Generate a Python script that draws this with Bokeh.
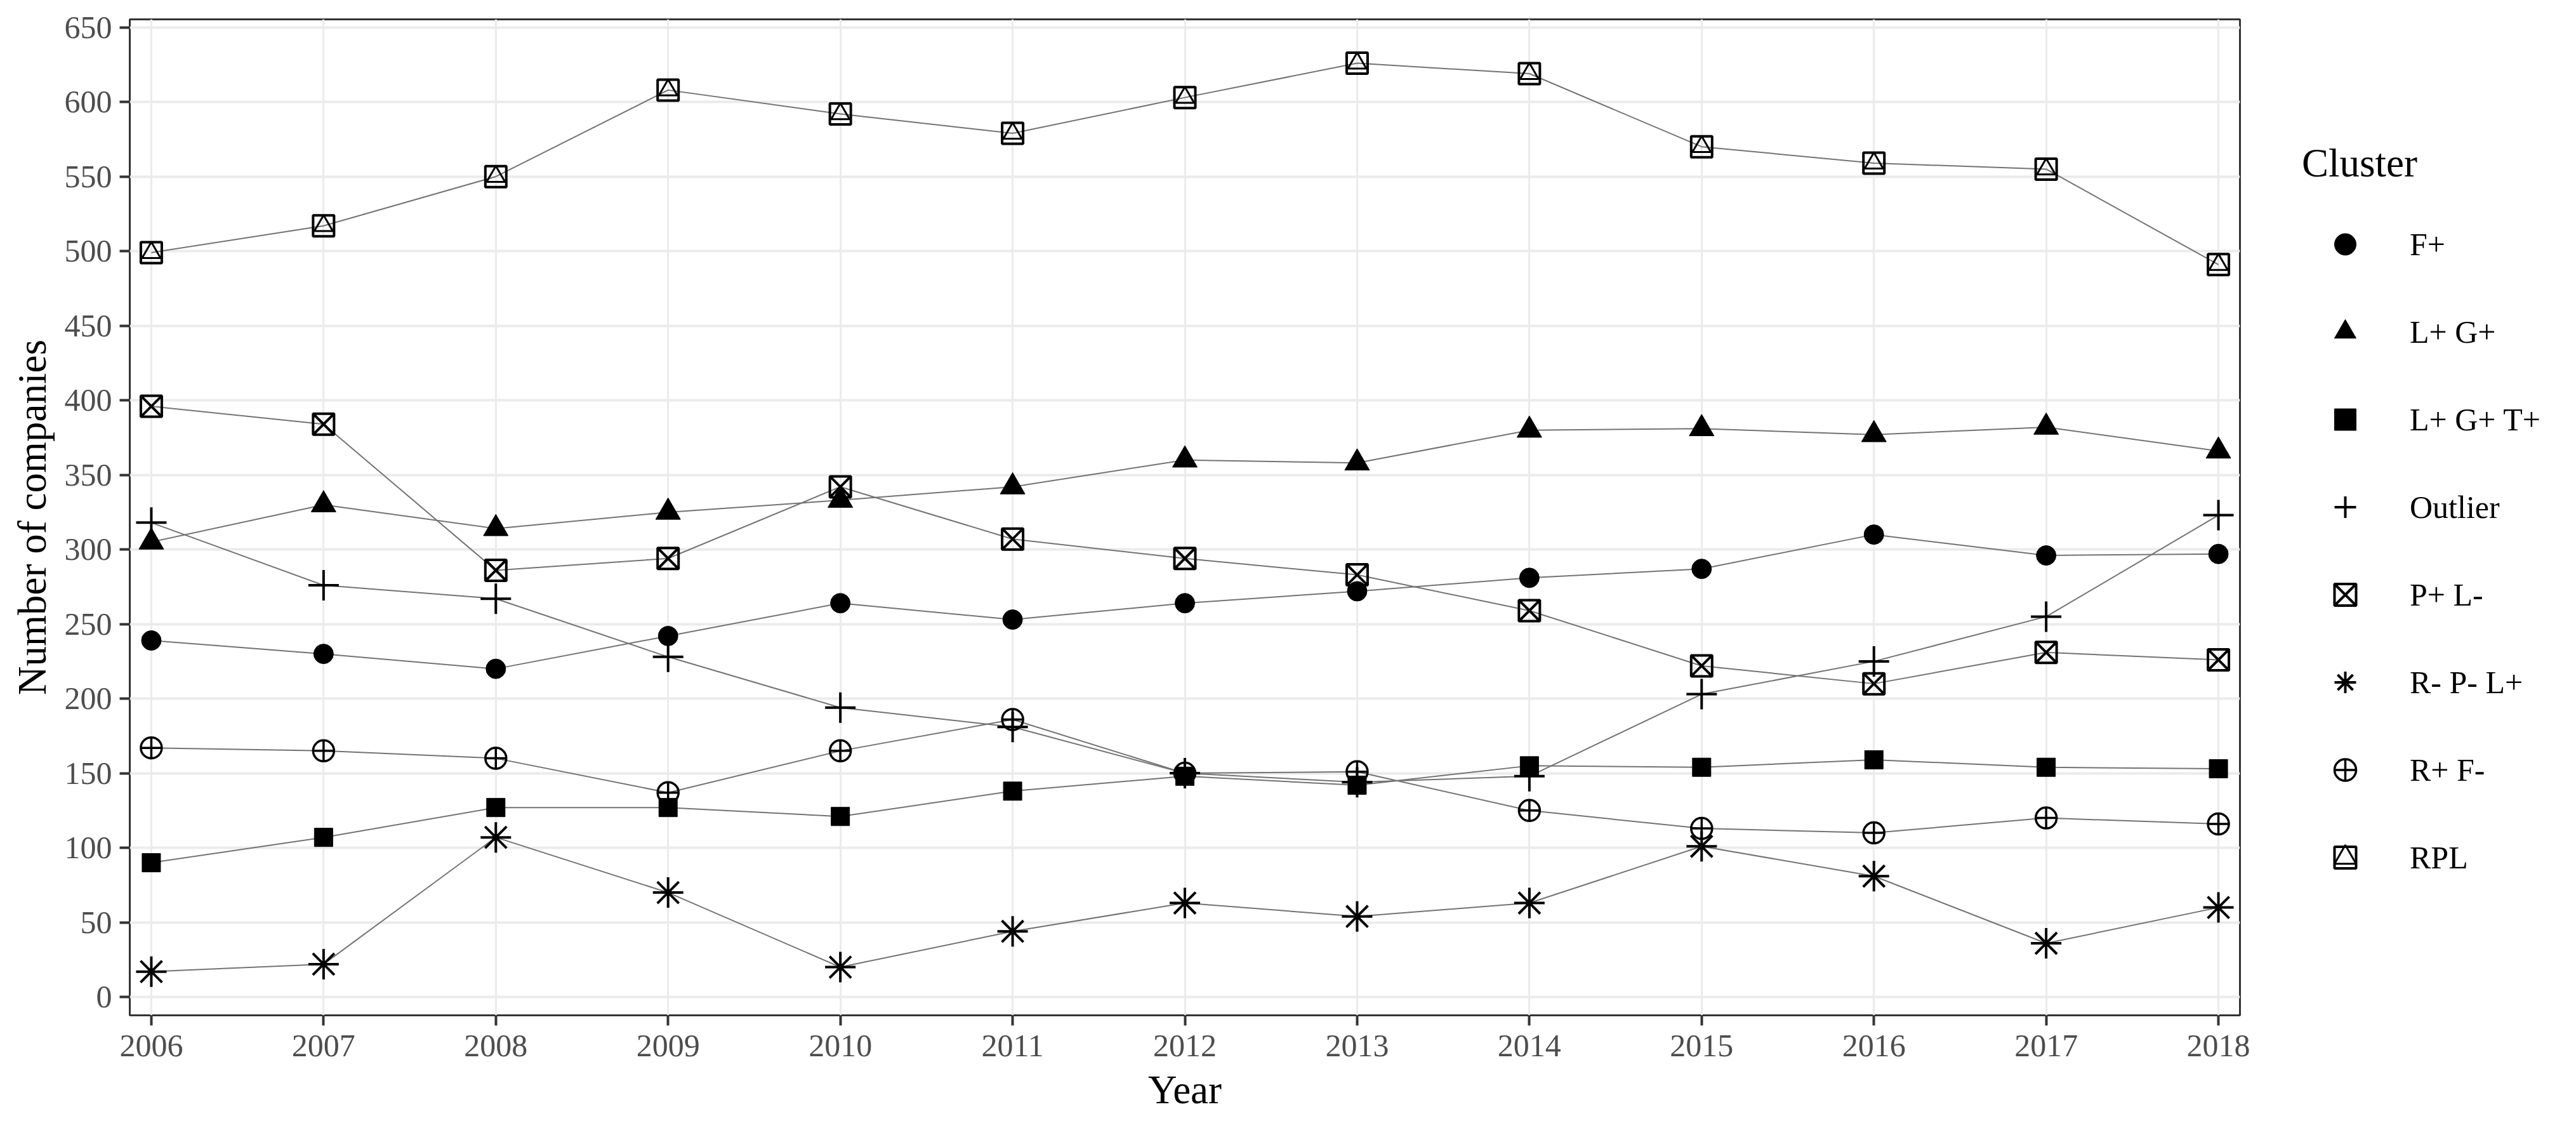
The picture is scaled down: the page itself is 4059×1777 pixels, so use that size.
from bokeh.plotting import figure
from bokeh.models import Legend, LegendItem, FixedTicker, Range1d
from bokeh.embed import file_html
from bokeh.resources import INLINE

years = list(range(2006, 2019))
f_plus = [239, 230, 220, 242, 264, 253, 264, 272, 281, 287, 310, 296, 297]
lg_plus = [305, 330, 314, 325, 333, 342, 360, 358, 380, 381, 377, 382, 366]
lgt_plus = [90, 107, 127, 127, 121, 138, 148, 142, 155, 154, 159, 154, 153]
outlier = [318, 276, 267, 228, 194, 181, 150, 144, 148, 203, 225, 255, 323]
p_l_minus = [396, 384, 286, 294, 342, 307, 294, 283, 259, 222, 210, 231, 226]
r_p_l_plus = [17, 22, 107, 70, 20, 44, 63, 54, 63, 101, 81, 36, 60]
r_f_minus = [167, 165, 160, 137, 165, 186, 150, 151, 125, 113, 110, 120, 116]
rpl = [499, 517, 550, 608, 592, 579, 603, 626, 619, 570, 559, 555, 491]

labels = ["F+", "L+ G+", "L+ G+ T+", "Outlier", "P+ L-", "R- P- L+", "R+ F-", "RPL"]
series = [f_plus, lg_plus, lgt_plus, outlier, p_l_minus, r_p_l_plus, r_f_minus, rpl]
y_ticks = list(range(0, 651, 50))

FONT = "Liberation Serif"

p = figure(frame_width=3325, frame_height=1569, output_backend="svg", toolbar_location=None,
           x_range=Range1d(2005.875, 2018.125), y_range=Range1d(-12.3, 655.4),
           min_border_left=204, min_border_right=514, min_border_top=30, min_border_bottom=162)
p.background_fill_color = "white"
p.border_fill_color = "white"
p.outline_line_color = "#333333"
p.outline_line_width = 3

p.xaxis.ticker = FixedTicker(ticks=years)
p.yaxis.ticker = FixedTicker(ticks=y_ticks)
p.xaxis.minor_tick_line_color = None
p.yaxis.minor_tick_line_color = None
for ax in (p.xaxis, p.yaxis):
    ax.axis_line_color = None
    ax.major_tick_line_color = "#333333"
    ax.major_tick_line_width = 4
    ax.major_tick_out = 16
    ax.major_tick_in = 0
    ax.major_label_text_font = FONT
    ax.major_label_text_font_size = "50px"
    ax.major_label_text_color = "#4D4D4D"
    ax.axis_label_text_font = FONT
    ax.axis_label_text_font_size = "63px"
    ax.axis_label_text_font_style = "normal"
    ax.axis_label_text_color = "black"
p.xaxis.axis_label = "Year"
p.yaxis.axis_label = "Number of companies"
p.xaxis.major_label_standoff = 15
p.xaxis.axis_label_standoff = 15
p.yaxis.major_label_standoff = 12
p.yaxis.axis_label_standoff = 13

p.xgrid.grid_line_color = "#EBEBEB"
p.xgrid.grid_line_width = 3
p.ygrid.grid_line_color = "#EBEBEB"
p.ygrid.grid_line_width = 4

LINE = "#737373"
for vals in series:
    p.line(years, vals, line_color=LINE, line_width=2)

items = []
r = p.scatter(years, f_plus, marker="circle", size=31, fill_color="black", line_color="black", line_width=1)
items.append(LegendItem(label=labels[0], renderers=[r]))
r = p.scatter(years, lg_plus, marker="triangle", size=39, fill_color="black", line_color="black", line_width=1)
items.append(LegendItem(label=labels[1], renderers=[r]))
r = p.scatter(years, lgt_plus, marker="square", size=29, fill_color="black", line_color="black", line_width=1)
items.append(LegendItem(label=labels[2], renderers=[r]))
r = p.scatter(years, outlier, marker="cross", size=48, fill_color=None, line_color="black", line_width=4)
items.append(LegendItem(label=labels[3], renderers=[r]))
r = p.scatter(years, p_l_minus, marker="square_x", size=33, fill_color=None, line_color="black", line_width=4)
items.append(LegendItem(label=labels[4], renderers=[r]))
r = p.scatter(years, r_p_l_plus, marker="asterisk", size=48, fill_color=None, line_color="black", line_width=4)
items.append(LegendItem(label=labels[5], renderers=[r]))
r = p.scatter(years, r_f_minus, marker="circle_cross", size=33, fill_color=None, line_color="black", line_width=3.5)
items.append(LegendItem(label=labels[6], renderers=[r]))
r1 = p.scatter(years, rpl, marker="square", size=33, fill_color=None, line_color="black", line_width=4)
r2 = p.scatter(years, rpl, marker="triangle", size=29, fill_color=None, line_color="black", line_width=3)
items.append(LegendItem(label=labels[7], renderers=[r1, r2]))

legend = Legend(items=items, location=(98, 206), title="Cluster",
                title_text_font=FONT, title_text_font_size="63px", title_text_font_style="normal",
                title_text_color="black", title_standoff=48,
                label_text_font=FONT, label_text_font_size="50px", label_text_color="black",
                glyph_width=136, glyph_height=85, spacing=53, label_standoff=34,
                padding=0, margin=0, border_line_color=None, background_fill_alpha=0)
p.add_layout(legend, "right")

open("out.html", "w").write(file_html(p, INLINE))
